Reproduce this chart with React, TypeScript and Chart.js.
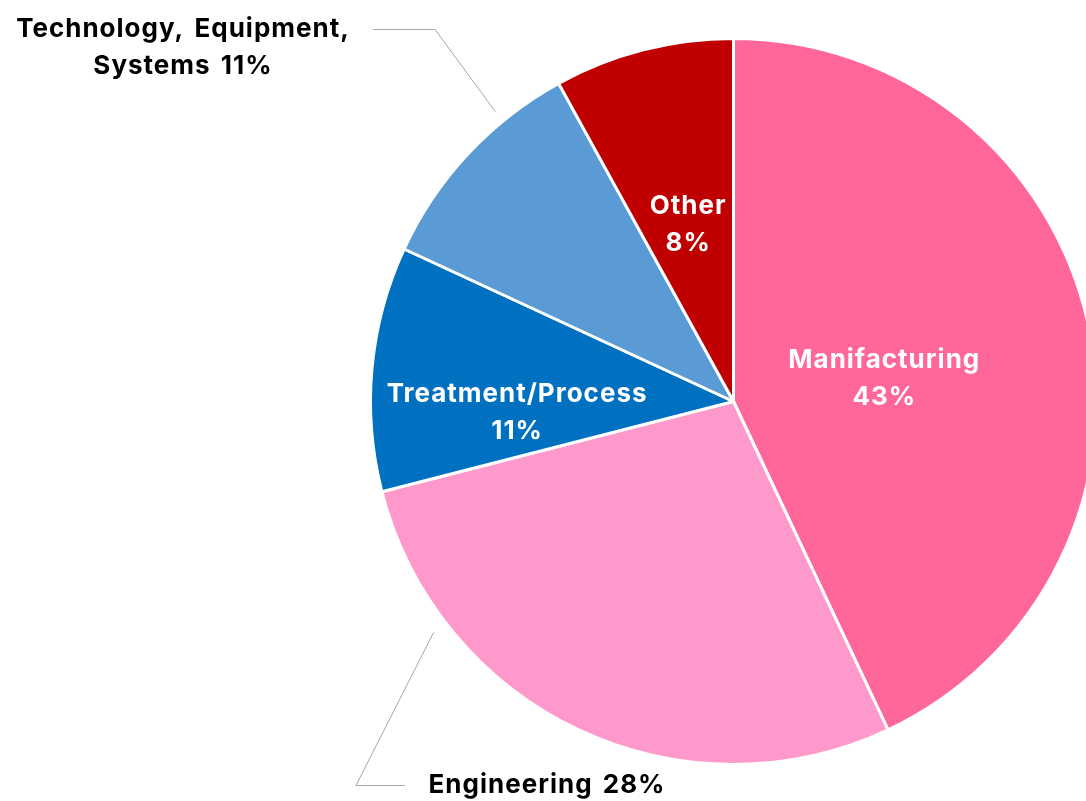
import React, { useEffect, useRef } from "react";
import { Chart, registerables } from "chart.js";

Chart.register(...registerables);

const categories = ["Manifacturing", "Engineering", "Treatment/Process", "Technology, Equipment, Systems", "Other"];
const values = [43.0, 28.0, 10.9, 10.1, 8.0];
const pctLabels = ["43%", "28%", "11%", "11%", "8%"];
const colors = ["#FF6699", "#FF99CC", "#0070C0", "#5B9BD5", "#C00000"];

const FONT = "bold 26px Inter, 'Open Sans', sans-serif";

const labelPlugin = {
  id: "sliceLabels",
  afterDraw(chart: any) {
    const ctx = chart.ctx as CanvasRenderingContext2D;
    const meta = chart.getDatasetMeta(0);
    const arc0 = meta.data[0].getProps(["x", "y", "outerRadius"], true);
    const cx0 = arc0.x;
    const cy0 = arc0.y;
    const R = arc0.outerRadius;
    const polar = (deg: number, f: number) => {
      const a = (deg * Math.PI) / 180;
      return [cx0 + Math.sin(a) * R * f, cy0 - Math.cos(a) * R * f];
    };
    ctx.save();
    ctx.font = FONT;
    (ctx as any).letterSpacing = "1px";
    (ctx as any).wordSpacing = "3px";
    ctx.textAlign = "center";
    ctx.textBaseline = "middle";
    const lh = 37;
    const inside: Record<number, { deg: number; f: number }> = {
      0: { deg: 81.5, f: 0.42 },
      2: { deg: 266.96, f: 0.597 },
      4: { deg: 345.6, f: 0.502 },
    };
    meta.data.forEach((_arc: any, i: number) => {
      if (inside[i]) {
        const [cx, cy] = polar(inside[i].deg, inside[i].f);
        ctx.fillStyle = "#FFFFFF";
        ctx.fillText(categories[i], cx, cy - lh / 2);
        ctx.fillText(pctLabels[i], cx, cy + lh / 2);
      } else if (i === 3) {
        const [ex, ey] = polar(320.6, 1.033);
        ctx.strokeStyle = "#A6A6A6";
        ctx.lineWidth = 1;
        ctx.beginPath();
        ctx.moveTo(ex, ey);
        ctx.lineTo(435, 29.5);
        ctx.lineTo(373, 29.5);
        ctx.stroke();
        ctx.fillStyle = "#000000";
        ctx.fillText("Technology, Equipment,", 183, 29);
        ctx.fillText("Systems " + pctLabels[i], 183, 66);
      } else if (i === 1) {
        const [ex, ey] = polar(232.4, 1.043);
        ctx.strokeStyle = "#A6A6A6";
        ctx.lineWidth = 1;
        ctx.beginPath();
        ctx.moveTo(ex, ey);
        ctx.lineTo(356, 785.5);
        ctx.lineTo(405, 785.5);
        ctx.stroke();
        ctx.fillStyle = "#000000";
        ctx.fillText(categories[i] + " " + pctLabels[i], 547, 785);
      }
    });
    ctx.restore();
  },
};

export default function App() {
  const ref = useRef<HTMLCanvasElement>(null);
  useEffect(() => {
    if (!ref.current) return;
    const chart = new Chart(ref.current, {
      type: "pie",
      data: {
        labels: categories,
        datasets: [
          {
            data: values,
            backgroundColor: colors,
            borderColor: "#FFFFFF",
            borderWidth: 3,
          },
        ],
      },
      options: {
        animation: false,
        responsive: false,
        maintainAspectRatio: false,
        layout: { padding: { left: 369, right: 102, top: 37, bottom: 35 } },
        plugins: { legend: { display: false }, tooltip: { enabled: false } },
      },
      plugins: [labelPlugin],
    });
    return () => chart.destroy();
  }, []);
  return (
    <div style={{ position: "fixed", left: 0, top: 0, width: 1086, height: 801, overflow: "hidden", background: "#fff" }}>
      <canvas ref={ref} width={1200} height={801} style={{ display: "block" }} />
    </div>
  );
}
